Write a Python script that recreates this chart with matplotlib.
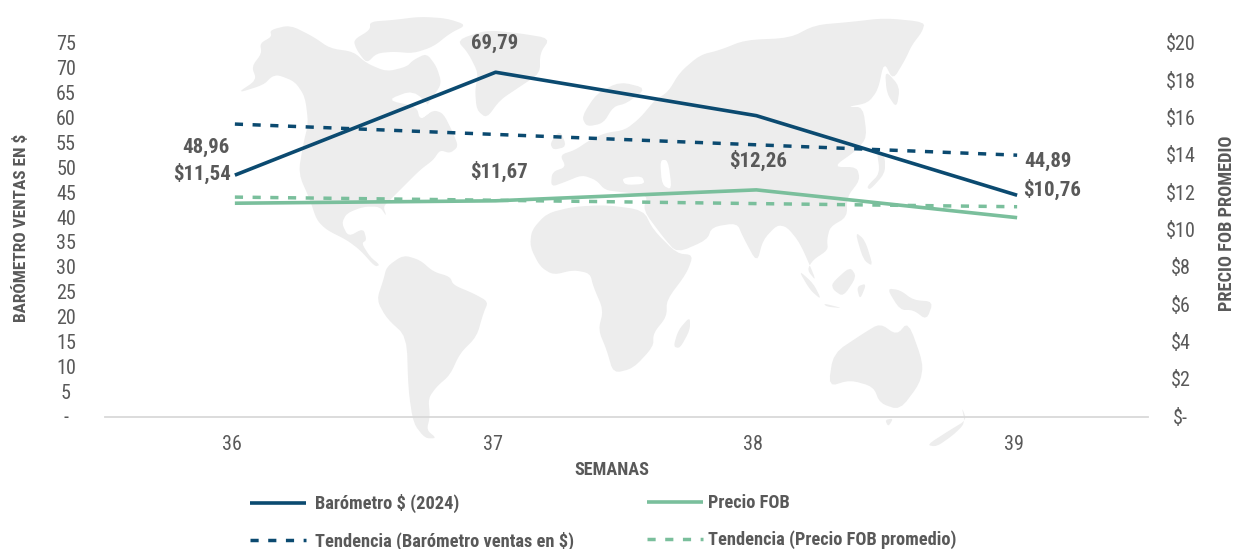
import matplotlib
matplotlib.use("Agg")
import matplotlib.pyplot as plt
from matplotlib.patches import Polygon
from matplotlib.transforms import ScaledTranslation

weeks = ["36", "37", "38", "39"]
barometro = [48.96, 69.79, 61.0, 44.89]
precio_fob = [11.54, 11.67, 12.26, 10.76]
tend_barometro = [59.3, 57.2, 55.1, 53.0]
tend_fob = [11.87, 11.70, 11.52, 11.35]
left_ticks = list(range(0, 80, 5))
left_labels = ["-"] + [str(v) for v in left_ticks[1:]]
right_ticks = list(range(0, 22, 2))
right_labels = ["$-"] + ["$%d" % v for v in right_ticks[1:]]
bar_labels = {0: "48,96", 1: "69,79", 3: "44,89"}
fob_labels = {0: "$11,54", 1: "$11,67", 2: "$12,26", 3: "$10,76"}

DARK = "#0B4A70"
GREEN = "#7ABF9C"
GRAY = "#595959"
MAP = "#EDEDED"
FAM = ["Liberation Sans Narrow", "Roboto Condensed", "Open Sans Condensed", "Liberation Sans", "DejaVu Sans"]
plt.rcParams["font.family"] = FAM

W, H = 1241, 549
fig = plt.figure(figsize=(W / 100, H / 100), dpi=100)

# decorative world map background, in picture pixels
bg = fig.add_axes([0, 0, 1, 1], zorder=0)
bg.set_xlim(0, W); bg.set_ylim(H, 0); bg.axis("off")

def z1(pts):
    return [(220 + x / 3, 10 + y / 3) for x, y in pts]
def z2(pts):
    return [(700 + x / 3, 10 + y / 3) for x, y in pts]
def smooth(p, n=2):
    for _ in range(n):
        q = []
        for i in range(len(p)):
            a, b = p[i], p[(i + 1) % len(p)]
            q.append((0.8 * a[0] + 0.2 * b[0], 0.8 * a[1] + 0.2 * b[1]))
            q.append((0.2 * a[0] + 0.8 * b[0], 0.2 * a[1] + 0.8 * b[1]))
        p = q
    return p

land = [
 z1([(150,60),(210,45),(280,80),(330,115),(400,125),(440,160),(500,185),(560,170),(580,150),(620,130),(650,170),(665,220),(640,260),(610,300),(600,330),(640,300),(670,310),(700,370),(715,410),(690,430),(660,420),(640,450),(600,480),(550,530),(510,570),(490,590),(500,620),(480,590),(430,590),(380,610),(365,640),(385,680),(430,655),(440,690),(425,700),(450,740),(480,765),(465,770),(420,720),(380,690),(320,660),(290,630),(270,570),(235,490),(250,400),(265,340),(255,260),(225,215),(175,195),(155,200),(130,225),(50,250),(110,210),(95,170),(125,130),(120,100),(155,80)]),
 z1([(400,90),(450,60),(450,35),(520,30),(600,20),(680,25),(740,45),(690,70),(640,110),(580,130),(520,125),(470,130),(440,160),(410,120)]),
 z1([(710,90),(800,60),(900,70),(990,85),(960,130),(960,190),(900,230),(840,270),(800,325),(770,300),(765,240),(775,190),(745,130)]),
 z1([(500,770),(550,735),(600,750),(640,785),(690,800),(700,825),(760,850),(805,875),(790,910),(770,980),(720,1030),(690,1095),(650,1130),(625,1165),(630,1220),(620,1260),(650,1285),(615,1285),(580,1240),(565,1140),(560,980),(500,925),(470,870),(490,810)]),
 z1([(935,660),(980,610),(1060,590),(1160,585),(1270,600),(1300,660),(1370,730),(1420,735),(1400,790),(1340,870),(1340,920),(1300,970),(1300,1010),(1240,1075),(1180,1090),(1160,1020),(1135,960),(1150,900),(1120,830),(1110,790),(1060,780),(1000,795),(960,770),(930,710)]),
 [(551,187),(552,172),(566,167),(560,155),(575,150),(590,140),(605,133),(625,130),(640,118),(655,100),(668,92),(680,72),(700,55),(720,50),(745,40),(790,38),(815,25),(850,22),(885,18),(925,22),(922,32),(912,45),(905,60),(893,80),(884,62),(878,90),(868,103),(847,107),(863,107),(867,137),(857,150),(833,167),(857,167),(860,180),(847,197),(847,217),(830,227),(827,240),(828,250),(813,260),(807,270),(817,282),(800,243),(787,227),(777,225),(763,240),(757,263),(743,237),(737,223),(712,227),(707,240),(677,253),(663,237),(643,210),(648,195),(620,192),(605,190),(596,180),(582,175),(565,182)],
 z1([(1085,320),(1130,250),(1200,215),(1280,235),(1220,280),(1180,290),(1150,340),(1100,350)]),
 z1([(990,400),(1020,360),(1040,410),(1000,420)]),
 z1([(1360,1010),(1375,960),(1410,920),(1410,960),(1380,1015)]),
 z2([(500,530),(540,490),(530,420),(555,440),(555,490),(510,540)]),
 z2([(555,180),(600,230),(590,295),(560,250)]),
 z2([(465,665),(495,690),(520,770),(490,750)]),
 z2([(395,820),(450,770),(470,800),(430,860),(400,840)]),
 z2([(295,780),(340,820),(365,870),(330,840)]),
 z2([(370,880),(430,895),(380,890)]),
 z2([(470,830),(500,820),(480,870)]),
 z2([(560,835),(600,840),(640,870),(700,875),(680,930),(640,900),(600,900)]),
 z2([(385,1130),(400,1030),(490,970),(540,940),(590,975),(625,935),(670,1060),(660,1120),(600,1200),(540,1180),(520,1130),(450,1110)]),
 z2([(555,1230),(580,1225),(565,1250)]),
 z2([(680,1305),(750,1260),(800,1230),(785,1190),(795,1240),(760,1275),(710,1310)]),
]
water = [
 z1([(500,270),(580,240),(640,300),(600,330),(590,290)]),
 [(622,178),(642,176),(645,184),(625,185)],
 [(660,160),(668,160),(672,190),(662,185)],
]
for p in land:
    bg.add_patch(Polygon(smooth(p), closed=True, fc=MAP, ec="none"))
for p in water:
    bg.add_patch(Polygon(smooth(p), closed=True, fc="white", ec="none"))

# chart axes
L, R, T, B = 104.5, 1147.5, 46.5, 417.0
ax = fig.add_axes([L / W, 1 - B / H, (R - L) / W, (B - T) / H], zorder=1)
ax2 = ax.twinx()
ax2.set_zorder(2)
ax.patch.set_alpha(0); ax2.patch.set_alpha(0)
x = list(range(len(weeks)))
solid = dict(lw=2.6, solid_capstyle="butt", solid_joinstyle="round")
dash = dict(lw=2.5, dashes=(2.35, 2.75), dash_capstyle="butt")
l1, = ax.plot(x, barometro, color=DARK, label="Barómetro $ (2024)", **solid)
l3, = ax.plot(x, tend_barometro, color=DARK, label="Tendencia (Barómetro ventas en $)", **dash)
l2, = ax2.plot(x, precio_fob, color=GREEN, label="Precio FOB", **solid)
l4, = ax2.plot(x, tend_fob, color=GREEN, label="Tendencia (Precio FOB promedio)", **dash)
ax.set_xlim(-0.5, 3.5)
ax.set_ylim(0, 75); ax2.set_ylim(0, 20)
ax.set_xticks(x, weeks)
ax.set_yticks(left_ticks, left_labels)
ax2.set_yticks(right_ticks, right_labels)
for a in (ax, ax2):
    for s in a.spines.values():
        s.set_visible(False)
ax.spines["bottom"].set_visible(True)
ax.spines["bottom"].set_color("#D9D9D9")
ax.spines["bottom"].set_linewidth(1.3)
ax.tick_params(axis="x", length=0, pad=13, labelsize=14.5, labelcolor=GRAY)
ax.tick_params(axis="y", length=0, pad=27.7, labelsize=14.5, labelcolor=GRAY)
ax2.tick_params(axis="y", length=0, pad=24, labelsize=14.5, labelcolor=GRAY)

def shift(lab, dx, dy):
    lab.set_transform(lab.get_transform() + ScaledTranslation(dx / 100, dy / 100, fig.dpi_scale_trans))

n = len(left_ticks)
for i, lab in enumerate(ax.get_yticklabels()):
    lab.set_ha("center"); shift(lab, 0, 1 + 2.5 * i / (n - 1))
n = len(right_ticks)
for i, lab in enumerate(ax2.get_yticklabels()):
    lab.set_ha("center"); shift(lab, 0, 1 + 2.5 * i / (n - 1))
for lab in ax.get_xticklabels():
    shift(lab, -3, 0)

lab_style = dict(textcoords="offset points", ha="center", va="center",
                 fontsize=15, fontweight="bold", color=GRAY, zorder=5)
bar_off = {0: (-29, 28), 1: (-1, 29), 3: (31, 34)}
fob_off = {0: (-33, 30), 1: (3, 29), 2: (2, 29), 3: (35, 28)}
for i, t in bar_labels.items():
    dx, dy = bar_off[i]
    ax.annotate(t, (x[i], barometro[i]), xytext=(dx * .72, dy * .72), **lab_style)
for i, t in fob_labels.items():
    dx, dy = fob_off[i]
    ax2.annotate(t, (x[i], precio_fob[i]), xytext=(dx * .72, dy * .72), **lab_style)

def ftext(px, py, s, size, **k):
    fig.text(px / W, 1 - py / H, s, color=GRAY, fontweight="bold", ha="center", va="center", fontsize=size, **k)

ftext(21, 228, "BARÓMETRO VENTAS EN $", 12.4, rotation=90)
ftext(1227, 223, "PRECIO FOB PROMEDIO", 13.2, rotation=90)
ftext(612, 470, "SEMANAS", 13.1)

leg_kw = dict(ncol=1, frameon=False, loc="upper left", prop=dict(size=13.2, weight="bold"),
              handlelength=3.06, labelspacing=1.0, labelcolor=GRAY, borderpad=0, borderaxespad=0)
leg1 = fig.legend(handles=[l1, l3], bbox_to_anchor=(250 / W, 1 - 494 / H), handletextpad=0.49, **leg_kw)
leg2 = fig.legend(handles=[l2, l4], bbox_to_anchor=(647 / W, 1 - 494 / H), handletextpad=0.27, **leg_kw)

fig.savefig("out.png", dpi=100, facecolor="white")
